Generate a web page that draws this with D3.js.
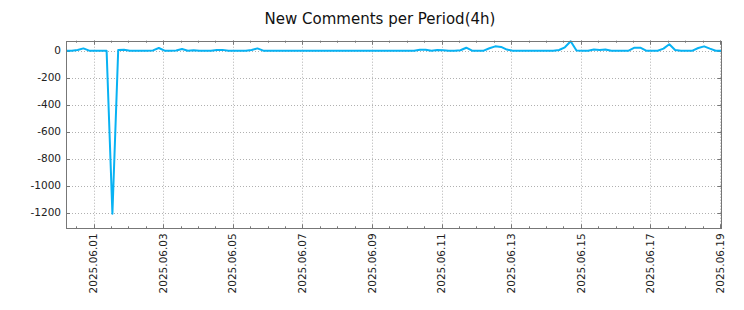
<!DOCTYPE html>
<html>
<head>
<meta charset="utf-8">
<script src="https://cdn.jsdelivr.net/npm/d3@7"></script>
<style>
    body{margin:0;background:#fff;}
    svg{display:block;font-family:"DejaVu Sans", sans-serif;}
</style>
</head>
<body>
<svg id="fig" width="744" height="310"></svg>
<script>
// data: new comments per 4h period, first period starts 2025-05-31 05:00
const firstPeriod = "2025-05-31 05:00";
const periodHours = 4;
const newComments = [
    0, 0, 5, 17, 0, 0, 0, 0, -1208, 5,
    7, 0, 0, 0, 0, 2, 20, 0, 0, 2,
    12, 0, 3, 0, 0, 0, 5, 6, 0, 0,
    0, 0, 5, 17, 0, 0, 0, 0, 0, 0,
    0, 0, 0, 0, 0, 0, 0, 0, 0, 0,
    0, 0, 0, 0, 0, 0, 0, 0, 0, 0,
    0, 7, 7, 0, 5, 4, 0, 0, 3, 22,
    0, 0, 0, 18, 32, 28, 8, 0, 0, 0,
    0, 0, 0, 0, 0, 5, 25, 70, 2, 0,
    0, 8, 5, 8, 0, 0, 0, 0, 22, 22,
    0, 0, 0, 15, 48, 5, 0, 0, 0, 20,
    32, 15, 0, 0
];
const xTickLabels = ["2025.06.01","2025.06.03","2025.06.05","2025.06.07","2025.06.09",
                     "2025.06.11","2025.06.13","2025.06.15","2025.06.17","2025.06.19"];
const yTickValues = [0, -200, -400, -600, -800, -1000, -1200];
const yDomain = [-1316, 74];

const parsePeriod = d3.timeParse("%Y-%m-%d %H:%M");
const parseTick = d3.timeParse("%Y.%m.%d");
const t0 = parsePeriod(firstPeriod);
const series = newComments.map((v, i) => ({date: d3.timeHour.offset(t0, i * periodHours), value: v}));

const svg = d3.select("#fig");
const box = {left: 66, right: 721.5, top: 40.7, bottom: 228.3};

const xScale = d3.scaleTime()
    .domain(d3.extent(series, d => d.date))
    .range([box.left, box.right]);
const yScale = d3.scaleLinear()
    .domain(yDomain)
    .range([box.bottom, box.top]);

const xTicks = xTickLabels.map(parseTick);
const xMinor = d3.timeHour.every(12).range(xScale.domain()[0], xScale.domain()[1]);
const px = v => Math.round(v) + 0.5;

// grid
const grid = svg.append("g").attr("stroke", "#b0b0b0").attr("stroke-width", 1).attr("stroke-dasharray", "1,2");
grid.selectAll(".gx").data(xTicks).join("line")
    .attr("x1", d => px(xScale(d))).attr("x2", d => px(xScale(d)))
    .attr("y1", box.top).attr("y2", box.bottom);
grid.selectAll(".gy").data(yTickValues).join("line")
    .attr("x1", box.left).attr("x2", box.right)
    .attr("y1", d => px(yScale(d))).attr("y2", d => px(yScale(d)));

// ticks (inward, mirrored)
const ticks = svg.append("g").attr("stroke", "#777").attr("stroke-width", 1);
function vTicks(data, y, len){
    ticks.append("g").selectAll("line").data(data).join("line")
        .attr("x1", d => px(xScale(d))).attr("x2", d => px(xScale(d)))
        .attr("y1", y).attr("y2", y + len);
}
vTicks(xMinor, box.bottom, -2);
vTicks(xMinor, box.top, 2);
vTicks(xTicks, box.bottom, -4);
vTicks(xTicks, box.top, 4);
function hTicks(x, len){
    ticks.append("g").selectAll("line").data(yTickValues).join("line")
        .attr("x1", x).attr("x2", x + len)
        .attr("y1", d => px(yScale(d))).attr("y2", d => px(yScale(d)));
}
hTicks(box.left, 4);
hTicks(box.right, -4);

// data line
svg.append("path")
    .datum(series)
    .attr("fill", "none")
    .attr("stroke", "#08b2f3")
    .attr("stroke-width", 2)
    .attr("stroke-linejoin", "round")
    .attr("d", d3.line().x(d => xScale(d.date)).y(d => yScale(d.value)));

// frame
svg.append("rect")
    .attr("x", box.left + 0.5).attr("y", Math.round(box.top) + 0.5)
    .attr("width", box.right - box.left - 0.5).attr("height", Math.round(box.bottom) - Math.round(box.top))
    .attr("fill", "none").attr("stroke", "#777").attr("stroke-width", 1);

// labels
svg.append("g").selectAll("text").data(yTickValues).join("text")
    .attr("x", box.left - 5)
    .attr("y", d => yScale(d))
    .attr("dy", "0.35em")
    .attr("text-anchor", "end")
    .attr("font-size", 10.5)
    .attr("fill", "#222")
    .text(d => d);

const fmt = d3.timeFormat("%Y.%m.%d");
svg.append("g").selectAll("text").data(xTicks).join("text")
    .attr("transform", d => `translate(${xScale(d)},${box.bottom + 5}) rotate(-90)`)
    .attr("dy", "0.35em")
    .attr("text-anchor", "end")
    .attr("font-size", 10.5)
    .attr("fill", "#222")
    .text(d => fmt(d));

svg.append("text")
    .attr("x", 380).attr("y", 24)
    .attr("text-anchor", "middle")
    .attr("font-size", 15)
    .attr("fill", "#111")
    .text("New Comments per Period(4h)");
</script>
</body>
</html>
